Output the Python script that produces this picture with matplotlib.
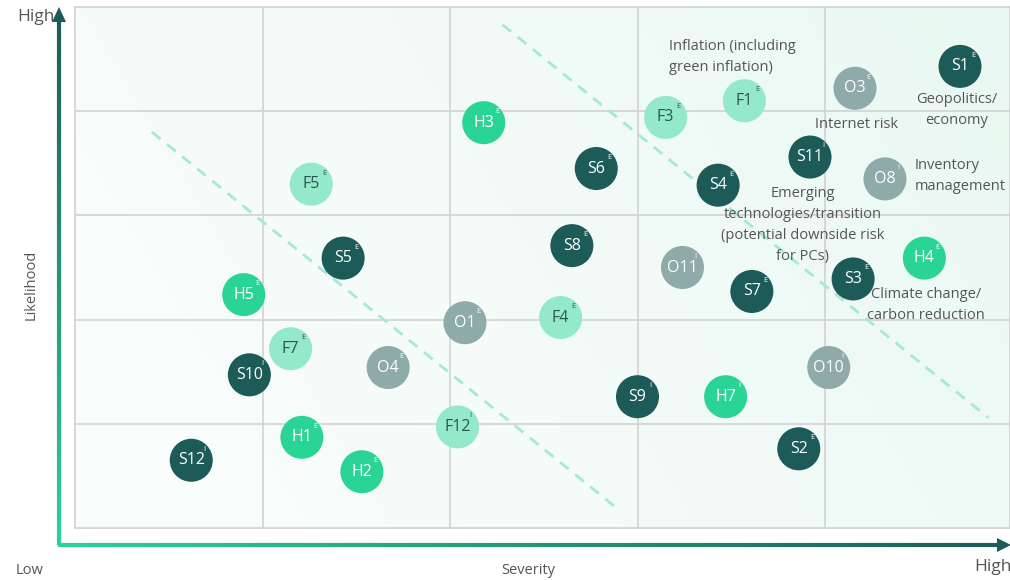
import matplotlib.pyplot as plt
import numpy as np
from matplotlib.colors import LinearSegmentedColormap, to_rgb
from matplotlib.collections import LineCollection
from matplotlib.patches import Polygon

plt.rcParams['font.family'] = ['Open Sans', 'DejaVu Sans']

# risk data (severity / likelihood on a 0-5 scale)
labels = ['S1', 'O3', 'F1', 'F3', 'H3', 'S11', 'O8', 'S6', 'S4', 'F5',
          'S8', 'H4', 'O11', 'S3', 'S7', 'S5', 'H5', 'O1', 'F4', 'F7',
          'O4', 'S10', 'O10', 'S9', 'H7', 'F12', 'H1', 'S2', 'S12', 'H2']
severity = [4.72, 4.16, 3.57, 3.15, 2.18, 3.92, 4.32, 2.78, 3.43, 1.26,
            2.65, 4.53, 3.24, 4.15, 3.61, 1.43, 0.90, 2.08, 2.59, 1.15,
            1.67, 0.93, 4.02, 3.00, 3.47, 2.04, 1.21, 3.86, 0.62, 1.53]
likelihood = [4.43, 4.22, 4.10, 3.94, 3.89, 3.56, 3.35, 3.45, 3.29, 3.30,
              2.71, 2.59, 2.50, 2.39, 2.27, 2.59, 2.24, 1.97, 2.02, 1.72,
              1.54, 1.47, 1.54, 1.26, 1.26, 0.97, 0.87, 0.76, 0.65, 0.54]
source = ['E', 'E', 'E', 'E', 'E', 'I', 'I', 'E', 'E', 'E',
          'E', 'E', 'I', 'E', 'E', 'E', 'E', 'E', 'E', 'E',
          'E', 'I', 'I', 'I', 'I', 'I', 'E', 'E', 'I', 'E']

emerging_lines = ['Emerging', 'technologies/transition',
                  '(potential downside risk', 'for PCs)']

fill = {'S': '#1d5b58', 'H': '#2ad495', 'F': '#93e9c9', 'O': '#8eaaa9'}
ink = {'S': 'white', 'H': 'white', 'F': '#2b5552', 'O': 'white'}

W, H = 1010, 580
fig = plt.figure(figsize=(W / 100, H / 100), dpi=100)

# overlay for the axis arrows
ov = fig.add_axes([0, 0, 1, 1])
ov.set_xlim(0, W)
ov.set_ylim(H, 0)
ov.axis('off')

green = np.array(to_rgb('#2ad495'))
dark = np.array(to_rgb('#1d5b58'))
n = 200
yy = np.linspace(545, 20, n)
seg = [[(59, yy[i]), (59, yy[i + 1])] for i in range(n - 1)]
cols = [green + (dark - green) * t for t in np.linspace(0, 1, n - 1)]
ov.add_collection(LineCollection(seg, colors=cols, linewidths=3, capstyle='butt'))
ov.add_patch(Polygon([(52, 22), (66, 22), (59, 7)], closed=True, color=dark, lw=0))
xx = np.linspace(58, 998, n)
seg = [[(xx[i], 545), (xx[i + 1], 545)] for i in range(n - 1)]
ov.add_collection(LineCollection(seg, colors=cols, linewidths=3, capstyle='butt'))
ov.add_patch(Polygon([(997, 538), (997, 552), (1011, 545)], closed=True, color=dark, lw=0))

fig.text(17 / W, 1 - 17 / H, 'High', fontsize=12.5, color='#555555', va='center', ha='left')
fig.text(31 / W, 1 - 285 / H, 'Likelihood', fontsize=10.5, color='#555555', va='center', ha='center', rotation=90)
fig.text(30 / W, 1 - 570 / H, 'Low', fontsize=10.5, color='#555555', va='center', ha='center')
fig.text(528 / W, 1 - 571 / H, 'Severity', fontsize=10.5, color='#555555', va='center', ha='center')
fig.text(993 / W, 1 - 567 / H, 'High', fontsize=12.5, color='#555555', va='center', ha='center')

# main matrix
ax = fig.add_axes([75 / W, 52 / H, (W - 75) / W, 521 / H])
xmax = (W - 75) / 187.5
ax.set_xlim(0, xmax)
ax.set_ylim(0, 5)

gx, gy = np.meshgrid(np.linspace(0, 1, 200), np.linspace(0, 1, 200))
grad = 0.75 * gx + 0.25 * gy
cmap = LinearSegmentedColormap.from_list('bg', ['#fbfdfc', '#f3fbf8', '#e9f8f2'])
ax.imshow(grad, extent=[0, xmax, 0, 5], origin='lower', cmap=cmap, aspect='auto', zorder=0)

for v in range(1, 5):
    ax.axvline(v, color='#d2d2d2', lw=1.2, zorder=1)
    ax.axhline(v, color='#d2d2d2', lw=1.2, zorder=1)
for s in ax.spines.values():
    s.set_color('#d2d2d2')
    s.set_linewidth(1.2)
ax.set_xticks([])
ax.set_yticks([])

ax.plot([0.41, 2.89], [3.80, 0.19], ls=(0, (4, 3)), color='#a3ebd0', lw=2, zorder=2)
ax.plot([2.28, 4.87], [4.83, 1.06], ls=(0, (4, 3)), color='#a3ebd0', lw=2, zorder=2)

for lab, sx, ly, src in zip(labels, severity, likelihood, source):
    g = lab[0]
    ax.scatter(sx, ly, s=960, color=fill[g], edgecolors='none', zorder=3)
    ax.text(sx, ly, lab, fontsize=11.5, color=ink[g], ha='center', va='center', zorder=4)
    ax.annotate(src, (sx, ly), xytext=(9.5, 8), textcoords='offset points', fontsize=5.5,
                color=ink[g], ha='center', va='center', zorder=4)

tc = '#555555'
fs = 10.5
ax.text(3.17, 4.52, 'Inflation (including\ngreen inflation)', fontsize=fs, color=tc,
        ha='left', va='center', linespacing=1.5)
ax.text(4.70, 4.01, 'Geopolitics/\neconomy', fontsize=fs, color=tc, ha='center', va='center', linespacing=1.5)
ax.text(4.17, 3.87, 'Internet risk', fontsize=fs, color=tc, ha='center', va='center')
ax.text(4.48, 3.38, 'Inventory\nmanagement', fontsize=fs, color=tc, ha='left', va='center', linespacing=1.5)
for i, line in enumerate(emerging_lines):
    ax.text(3.88, 3.21 - 0.2 * i, line, fontsize=fs, color=tc, ha='center', va='center')
ax.text(4.54, 2.14, 'Climate change/\ncarbon reduction', fontsize=fs, color=tc,
        ha='center', va='center', linespacing=1.5)

fig.savefig('out.png', dpi=100)
